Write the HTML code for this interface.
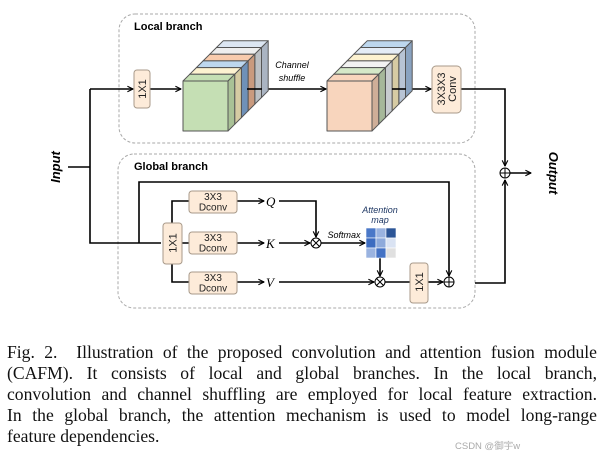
<!DOCTYPE html>
<html><head><meta charset="utf-8"><style>
body{margin:0;width:614px;height:454px;background:#fff;overflow:hidden;position:relative}
.cap{position:absolute;left:7px;width:590px;font-family:"Liberation Serif",serif;font-size:17.6px;line-height:21px;color:#111;text-align:justify;text-align-last:justify;white-space:nowrap}
</style></head><body>
<svg width="614" height="454" style="position:absolute;left:0;top:0" font-family="Liberation Sans, sans-serif">
<defs><marker id="a" viewBox="0 0 10 10" refX="9" refY="5" markerWidth="7" markerHeight="7" orient="auto" markerUnits="userSpaceOnUse"><path d="M1,1 L9,5 L1,9" fill="none" stroke="#000" stroke-width="1.6"/></marker></defs>
<rect x="119" y="14" width="356" height="129" rx="16" fill="none" stroke="#aaa" stroke-dasharray="3,2"/>
<rect x="118" y="154" width="357" height="154" rx="16" fill="none" stroke="#aaa" stroke-dasharray="3,2"/>
<text x="134" y="30" font-size="11" font-weight="bold">Local branch</text>
<text x="134" y="170" font-size="11" font-weight="bold">Global branch</text>
<g stroke="#000" stroke-width="1.6" fill="none">
<path d="M68,167 H90 M90,89 V243 H161" />
<path d="M90,89 H133" marker-end="url(#a)"/>
<path d="M150,89 H181" marker-end="url(#a)"/>
<path d="M247,89 H326" marker-end="url(#a)"/>
<path d="M392,89 H431" marker-end="url(#a)"/>
<path d="M461,89 H505 V166" marker-end="url(#a)"/>
<path d="M475,283 H505 V180" marker-end="url(#a)"/>
<path d="M510,173 H531" marker-end="url(#a)"/>
<path d="M139,243 V182 H449 V276" marker-end="url(#a)"/>
<path d="M172,223 V201 H189 M172,263 V282 H189 M182,243 H189"/>
<path d="M237,201 H264" marker-end="url(#a)"/>
<path d="M237,243 H264" marker-end="url(#a)"/>
<path d="M237,282 H264" marker-end="url(#a)"/>
<path d="M279,201 H316 V237" marker-end="url(#a)"/>
<path d="M279,243 H310" marker-end="url(#a)"/>
<path d="M279,282 H374" marker-end="url(#a)"/>
<path d="M321,243 H365" marker-end="url(#a)"/>
<path d="M380,258 V276" marker-end="url(#a)"/>
<path d="M385,282 H410" />
<path d="M428,282 H443" marker-end="url(#a)"/>
</g>
<g stroke="#000" stroke-width="1" fill="#fff">
<circle cx="505" cy="173" r="5"/><path d="M500,173 H510 M505,168 V178"/>
<circle cx="449" cy="282" r="5"/><path d="M444,282 H454 M449,277 V287"/>
<circle cx="316" cy="243" r="5"/><path d="M312.5,239.5 L319.5,246.5 M319.5,239.5 L312.5,246.5"/>
<circle cx="380" cy="282" r="5"/><path d="M376.5,278.5 L383.5,285.5 M383.5,278.5 L376.5,285.5"/>
</g>
<g fill="#fdebd9" stroke="#a89a8a" stroke-width="1">
<rect x="134" y="70" width="16" height="38" rx="3"/>
<rect x="432" y="66" width="29" height="47" rx="4"/>
<rect x="163" y="223" width="19" height="41" rx="3"/>
<rect x="410" y="263" width="18" height="40" rx="3"/>
<rect x="189" y="191" width="48" height="22" rx="3"/>
<rect x="189" y="232" width="48" height="22" rx="3"/>
<rect x="189" y="272" width="48" height="22" rx="3"/>
</g>
<g font-size="11" text-anchor="middle" fill="#222">
<text transform="translate(146,89) rotate(-90)" text-anchor="middle">1X1</text>
<text transform="translate(445,89) rotate(-90)" text-anchor="middle">3X3X3</text>
<text transform="translate(456,89) rotate(-90)" text-anchor="middle">Conv</text>
<text transform="translate(176.5,243) rotate(-90)" text-anchor="middle">1X1</text>
<text transform="translate(423,282) rotate(-90)" text-anchor="middle">1X1</text>
<text x="213" y="200" font-size="10">3X3</text><text x="213" y="210.5" font-size="10">Dconv</text>
<text x="213" y="241" font-size="10">3X3</text><text x="213" y="251.5" font-size="10">Dconv</text>
<text x="213" y="281" font-size="10">3X3</text><text x="213" y="291.5" font-size="10">Dconv</text>
</g>
<g font-family="Liberation Serif, serif" font-style="italic" font-size="13">
<text x="266" y="206">Q</text><text x="266" y="248">K</text><text x="266" y="287">V</text>
</g>
<g font-style="italic" font-size="9" text-anchor="middle">
<text x="292" y="68">Channel</text><text x="292" y="81">shuffle</text>
<text x="344" y="238">Softmax</text>
<text x="380" y="213" fill="#1f3864">Attention</text><text x="380" y="223" fill="#1f3864">map</text>
</g>
<text transform="translate(60,167) rotate(-90)" text-anchor="middle" font-size="13" font-weight="bold" font-style="italic">Input</text>
<text transform="translate(549,173) rotate(90)" text-anchor="middle" font-size="13" font-weight="bold" font-style="italic">Output</text>
<g stroke="#fff" stroke-width="0.6">
<rect x="366" y="228" width="10" height="10" fill="#4a78c8"/><rect x="376" y="228" width="10" height="10" fill="#9ab3e0"/><rect x="386" y="228" width="10" height="10" fill="#2c5597"/>
<rect x="366" y="238" width="10" height="10" fill="#3d6cc0"/><rect x="376" y="238" width="10" height="10" fill="#8eaadb"/><rect x="386" y="238" width="10" height="10" fill="#dae3f3"/>
<rect x="366" y="248" width="10" height="10" fill="#9ab3e0"/><rect x="376" y="248" width="10" height="10" fill="#4472c4"/><rect x="386" y="248" width="10" height="10" fill="#e0e0e0"/>
</g>
<g stroke="#555" stroke-width="1" stroke-linejoin="round">
<g transform="translate(33.5,-33.5)"><path d="M183,81 h45 v50 h-45z" fill="#dce6f2"/><path d="M183,81 l6.7,-6.7 h45 l-6.7,6.7z" fill="#dce6f2"/><path d="M228,81 l6.7,-6.7 v50 l-6.7,6.7z" fill="#aab4c2"/></g>
<g transform="translate(26.8,-26.8)"><path d="M183,81 h45 v50 h-45z" fill="#eeeeee"/><path d="M183,81 l6.7,-6.7 h45 l-6.7,6.7z" fill="#eeeeee"/><path d="M228,81 l6.7,-6.7 v50 l-6.7,6.7z" fill="#bcc0c4"/></g>
<g transform="translate(20.1,-20.1)"><path d="M183,81 h45 v50 h-45z" fill="#f8cbad"/><path d="M183,81 l6.7,-6.7 h45 l-6.7,6.7z" fill="#f8cbad"/><path d="M228,81 l6.7,-6.7 v50 l-6.7,6.7z" fill="#c99a7e"/></g>
<g transform="translate(13.4,-13.4)"><path d="M183,81 h45 v50 h-45z" fill="#bdd7ee"/><path d="M183,81 l6.7,-6.7 h45 l-6.7,6.7z" fill="#bdd7ee"/><path d="M228,81 l6.7,-6.7 v50 l-6.7,6.7z" fill="#6f91b8"/></g>
<g transform="translate(6.7,-6.7)"><path d="M183,81 h45 v50 h-45z" fill="#fdf2d0"/><path d="M183,81 l6.7,-6.7 h45 l-6.7,6.7z" fill="#fdf2d0"/><path d="M228,81 l6.7,-6.7 v50 l-6.7,6.7z" fill="#d6cba3"/></g>
<g><path d="M183,81 h45 v50 h-45z" fill="#c5dfb4"/><path d="M183,81 l6.7,-6.7 h45 l-6.7,6.7z" fill="#c5dfb4"/><path d="M228,81 l6.7,-6.7 v50 l-6.7,6.7z" fill="#a9c196"/></g>
<g transform="translate(33.5,-33.5)"><path d="M327,81 h45 v50 h-45z" fill="#bdd7ee"/><path d="M327,81 l6.7,-6.7 h45 l-6.7,6.7z" fill="#bdd7ee"/><path d="M372,81 l6.7,-6.7 v50 l-6.7,6.7z" fill="#8aa3c0"/></g>
<g transform="translate(26.8,-26.8)"><path d="M327,81 h45 v50 h-45z" fill="#e4ecf6"/><path d="M327,81 l6.7,-6.7 h45 l-6.7,6.7z" fill="#e4ecf6"/><path d="M372,81 l6.7,-6.7 v50 l-6.7,6.7z" fill="#b8c4d4"/></g>
<g transform="translate(20.1,-20.1)"><path d="M327,81 h45 v50 h-45z" fill="#fdf2d0"/><path d="M327,81 l6.7,-6.7 h45 l-6.7,6.7z" fill="#fdf2d0"/><path d="M372,81 l6.7,-6.7 v50 l-6.7,6.7z" fill="#d6cba3"/></g>
<g transform="translate(13.4,-13.4)"><path d="M327,81 h45 v50 h-45z" fill="#f2f2f2"/><path d="M327,81 l6.7,-6.7 h45 l-6.7,6.7z" fill="#f2f2f2"/><path d="M372,81 l6.7,-6.7 v50 l-6.7,6.7z" fill="#c8ccd0"/></g>
<g transform="translate(6.7,-6.7)"><path d="M327,81 h45 v50 h-45z" fill="#d5e8c8"/><path d="M327,81 l6.7,-6.7 h45 l-6.7,6.7z" fill="#d5e8c8"/><path d="M372,81 l6.7,-6.7 v50 l-6.7,6.7z" fill="#a6b89a"/></g>
<g><path d="M327,81 h45 v50 h-45z" fill="#f8d5bd"/><path d="M327,81 l6.7,-6.7 h45 l-6.7,6.7z" fill="#f8d5bd"/><path d="M372,81 l6.7,-6.7 v50 l-6.7,6.7z" fill="#cfae98"/></g>
</g>
<path d="M247,89 H262" stroke="#000" stroke-width="1.6"/>
<path d="M392,89 H406" stroke="#000" stroke-width="1.6"/>
</svg>
<div class="cap" style="top:342px">Fig. 2.&nbsp; Illustration of the proposed convolution and attention fusion module</div>
<div class="cap" style="top:363px">(CAFM). It consists of local and global branches. In the local branch,</div>
<div class="cap" style="top:384px">convolution and channel shuffling are employed for local feature extraction.</div>
<div class="cap" style="top:405px">In the global branch, the attention mechanism is used to model long-range</div>
<div class="cap" style="top:426px;text-align-last:left">feature dependencies.</div>
<div style="position:absolute;left:455px;top:438px;font-family:'Liberation Sans','Noto Sans CJK SC',sans-serif;font-size:9.5px;color:#aaa">CSDN @御宇w</div>
</body></html>
